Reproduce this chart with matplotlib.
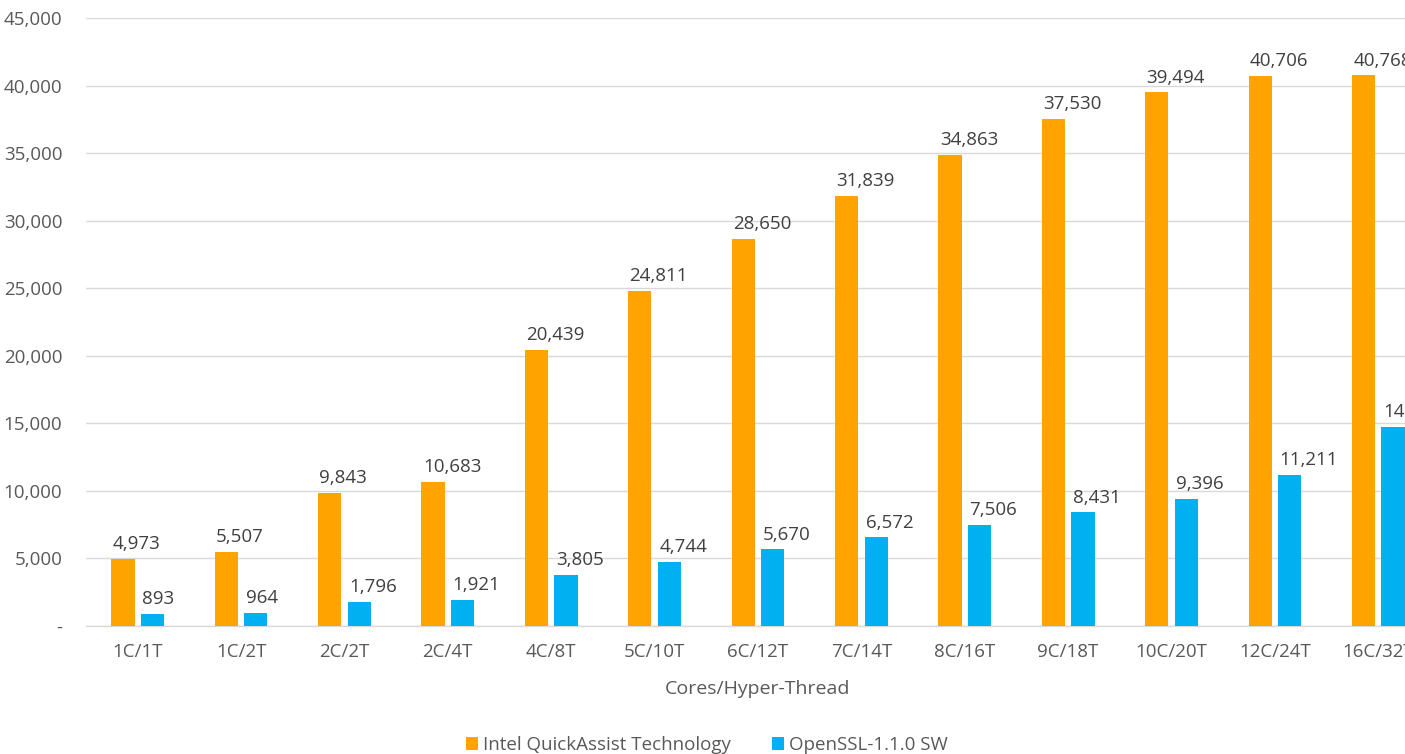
import matplotlib.pyplot as plt
from matplotlib.patches import Patch
from matplotlib.ticker import FuncFormatter
import numpy as np

plt.rcParams['font.family'] = ['Open Sans', 'DejaVu Sans']

categories = ["1C/1T", "1C/2T", "2C/2T", "2C/4T", "4C/8T", "5C/10T", "6C/12T",
              "7C/14T", "8C/16T", "9C/18T", "10C/20T", "12C/24T", "16C/32T"]
qat_values = [4973, 5507, 9843, 10683, 20439, 24811, 28650,
              31839, 34863, 37530, 39494, 40706, 40768]
sw_values = [893, 964, 1796, 1921, 3805, 4744, 5670,
             6572, 7506, 8431, 9396, 11211, 14750]
y_ticks = [0, 5000, 10000, 15000, 20000, 25000, 30000, 35000, 40000, 45000]
series_names = ["Intel QuickAssist Technology", "OpenSSL-1.1.0 SW"]

ORANGE = "#FFA300"
BLUE = "#00B0F0"
TICK_GREY = "#595959"
LABEL_GREY = "#404040"
GRID_GREY = "#D9D9D9"

fig = plt.figure(figsize=(14.05, 7.54), dpi=100)
# plot area runs past the right edge of the canvas on purpose
ax = fig.add_axes([86 / 1405, 128 / 754, 1344 / 1405, 608 / 754])

x = np.arange(len(categories))
width = 0.225
offset = 0.143

bars_qat = ax.bar(x - offset, qat_values, width, color=ORANGE, zorder=3)
bars_sw = ax.bar(x + offset, sw_values, width, color=BLUE, zorder=3)

for bars, vals in ((bars_qat, qat_values), (bars_sw, sw_values)):
    for rect, v in zip(bars, vals):
        ax.annotate(f"{v:,}", (rect.get_x(), v), xytext=(1, 4),
                    textcoords="offset points", ha="left", va="bottom",
                    fontsize=13.5, color=LABEL_GREY, annotation_clip=False)

ax.set_xlim(-0.5, len(categories) - 0.5)
ax.set_ylim(0, 45000)
ax.set_yticks(y_ticks)
ax.yaxis.set_major_formatter(FuncFormatter(lambda v, _: "-" if v == 0 else f"{int(v):,}"))
ax.set_xticks(x)
ax.set_xticklabels(categories)

ax.grid(axis="y", color=GRID_GREY, linewidth=1.0, zorder=0)
ax.tick_params(axis="y", length=0, pad=17, labelsize=13.5, labelcolor=TICK_GREY)
ax.tick_params(axis="x", length=0, pad=12, labelsize=13.5, labelcolor=TICK_GREY)
for side in ("left", "right", "top"):
    ax.spines[side].set_visible(False)
ax.spines["bottom"].set_color(GRID_GREY)
ax.spines["bottom"].set_linewidth(1.0)

ax.set_xlabel("Cores/Hyper-Thread", fontsize=14, color=TICK_GREY, labelpad=14)

handles = [Patch(facecolor=ORANGE), Patch(facecolor=BLUE)]
fig.legend(handles, series_names, loc="center", bbox_to_anchor=(0.503, 0.012),
           ncol=2, frameon=False, fontsize=13.5, labelcolor=TICK_GREY,
           handlelength=0.65, handleheight=0.65, handletextpad=0.25,
           columnspacing=2.2)

fig.savefig("out.png", dpi=100)
